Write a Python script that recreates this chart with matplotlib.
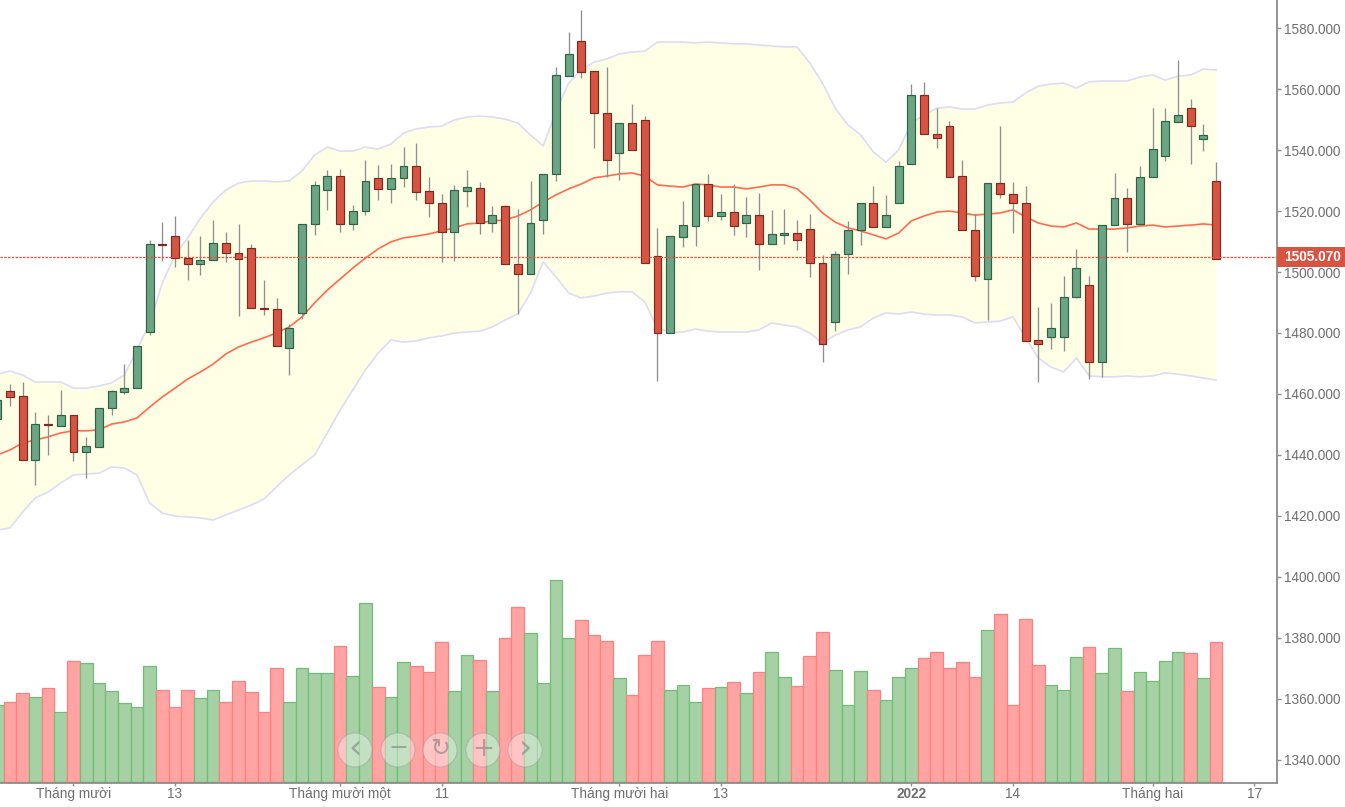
import numpy as np
import matplotlib
matplotlib.use("Agg")
import matplotlib.pyplot as plt
from matplotlib.patches import Circle, Rectangle

plt.rcParams['font.family'] = ['Liberation Sans', 'DejaVu Sans']

# candles, first one is cut off by the left edge
opens = [1451.8, 1461.0, 1459.2, 1438.2, 1450.1, 1449.5, 1453.0, 1440.9, 1442.5, 1455.4,
         1460.6, 1461.9, 1480.3, 1509.2, 1511.7, 1504.6, 1502.5, 1503.8, 1509.6, 1506.2,
         1508.0, 1488.2, 1487.9, 1475.0, 1486.5, 1515.7, 1526.8, 1531.4, 1515.7, 1520.1,
         1531.0, 1527.2, 1530.9, 1534.7, 1526.5, 1522.8, 1513.2, 1526.6, 1527.7, 1516.1,
         1521.6, 1502.6, 1499.2, 1517.0, 1532.1, 1564.5, 1575.7, 1565.9, 1552.3, 1539.1,
         1549.0, 1549.8, 1505.2, 1480.0, 1511.5, 1515.2, 1528.9, 1518.5, 1519.8, 1516.1,
         1518.6, 1509.1, 1512.3, 1512.8, 1514.1, 1503.1, 1483.7, 1505.8, 1513.7, 1522.8,
         1514.8, 1522.7, 1535.4, 1558.1, 1545.3, 1547.8, 1531.4, 1513.7, 1497.6, 1529.3,
         1525.6, 1522.8, 1477.6, 1478.8, 1478.8, 1491.8, 1495.6, 1470.5, 1515.3, 1524.4,
         1515.7, 1531.3, 1538.2, 1549.4, 1554.0, 1543.6, 1529.8]
highs = [1462.0, 1463.3, 1463.8, 1454.0, 1453.2, 1461.4, 1453.0, 1446.0, 1455.5, 1461.4,
         1469.9, 1475.6, 1510.6, 1516.3, 1518.4, 1510.6, 1511.7, 1517.2, 1513.0, 1515.9,
         1509.3, 1497.5, 1491.6, 1483.0, 1515.9, 1529.9, 1533.6, 1533.9, 1522.1, 1536.9,
         1535.2, 1535.6, 1540.9, 1542.2, 1531.1, 1525.7, 1528.7, 1533.6, 1529.4, 1521.7,
         1522.1, 1520.8, 1529.8, 1532.2, 1567.2, 1578.7, 1586.1, 1565.9, 1567.2, 1549.0,
         1555.0, 1551.1, 1514.6, 1511.7, 1523.3, 1528.9, 1532.3, 1525.7, 1529.0, 1524.5,
         1526.0, 1520.5, 1520.8, 1517.2, 1519.1, 1505.7, 1506.9, 1516.8, 1522.8, 1528.2,
         1525.4, 1536.4, 1561.8, 1562.3, 1554.0, 1549.6, 1536.9, 1519.2, 1529.3, 1547.8,
         1529.4, 1528.1, 1488.4, 1490.0, 1498.6, 1507.7, 1498.6, 1515.3, 1532.6, 1527.7,
         1534.7, 1554.0, 1554.0, 1569.7, 1556.9, 1548.7, 1536.0]
lows = [1449.0, 1456.0, 1438.2, 1430.2, 1440.0, 1449.5, 1438.0, 1432.3, 1442.5, 1453.2,
        1460.0, 1461.9, 1479.4, 1503.6, 1501.6, 1497.5, 1499.1, 1503.8, 1503.2, 1485.7,
        1488.2, 1486.0, 1475.8, 1466.3, 1484.6, 1512.3, 1520.5, 1513.1, 1513.9, 1518.8,
        1523.8, 1522.7, 1527.9, 1523.8, 1518.1, 1503.3, 1503.6, 1521.4, 1512.6, 1513.0,
        1502.5, 1486.1, 1499.2, 1512.6, 1529.9, 1564.5, 1563.6, 1540.6, 1531.2, 1530.3,
        1539.9, 1503.0, 1464.2, 1480.0, 1508.2, 1508.5, 1516.8, 1517.2, 1512.2, 1511.5,
        1500.8, 1509.1, 1509.1, 1507.3, 1498.4, 1470.5, 1480.6, 1499.4, 1509.0, 1514.8,
        1514.8, 1522.7, 1535.4, 1545.2, 1540.6, 1531.3, 1513.7, 1497.0, 1484.4, 1524.2,
        1512.7, 1477.5, 1463.9, 1474.6, 1474.2, 1491.6, 1465.0, 1465.5, 1515.3, 1506.6,
        1515.3, 1531.3, 1536.6, 1549.4, 1535.3, 1539.8, 1504.3]
closes = [1457.9, 1459.0, 1438.2, 1450.2, 1449.7, 1453.0, 1440.9, 1442.8, 1455.5, 1460.8,
          1462.0, 1475.6, 1509.3, 1508.8, 1504.6, 1502.5, 1503.8, 1509.6, 1506.2, 1504.2,
          1488.2, 1487.8, 1475.8, 1481.7, 1515.9, 1528.5, 1531.4, 1515.7, 1520.2, 1529.8,
          1527.2, 1531.0, 1534.7, 1526.4, 1522.7, 1513.2, 1526.8, 1527.8, 1516.1, 1518.6,
          1502.5, 1499.2, 1516.2, 1532.2, 1564.6, 1571.6, 1565.8, 1552.2, 1536.7, 1549.0,
          1539.9, 1503.0, 1480.0, 1511.7, 1515.3, 1528.9, 1518.5, 1519.8, 1515.2, 1518.6,
          1509.1, 1512.5, 1512.9, 1510.4, 1503.0, 1476.4, 1505.9, 1513.8, 1522.8, 1514.8,
          1518.6, 1534.7, 1558.1, 1545.2, 1543.9, 1531.3, 1513.7, 1498.8, 1529.3, 1525.5,
          1522.7, 1477.5, 1476.3, 1481.7, 1491.9, 1501.4, 1470.5, 1515.3, 1524.4, 1515.7,
          1531.3, 1540.4, 1549.5, 1551.5, 1548.0, 1544.9, 1504.3]

bb_upper = [1466.5, 1467.5, 1466.2, 1463.9, 1463.9, 1463.9, 1461.9, 1461.9, 1462.6, 1463.6,
            1466.2, 1474.4, 1483.3, 1496.4, 1505.6, 1511.2, 1517.7, 1523.0, 1526.9, 1529.2,
            1529.9, 1529.9, 1529.6, 1529.9, 1533.2, 1538.4, 1541.0, 1539.7, 1539.7, 1541.0,
            1540.4, 1542.0, 1545.6, 1547.0, 1547.6, 1547.9, 1549.9, 1550.9, 1551.2, 1550.9,
            1550.2, 1548.9, 1545.0, 1541.4, 1552.5, 1562.0, 1566.3, 1568.9, 1569.9, 1571.6,
            1572.2, 1572.5, 1575.5, 1575.5, 1575.5, 1575.2, 1575.5, 1575.2, 1574.9, 1574.9,
            1574.5, 1574.2, 1573.9, 1573.9, 1568.6, 1562.0, 1553.8, 1548.3, 1545.0, 1539.4,
            1536.1, 1540.1, 1548.9, 1551.5, 1553.8, 1554.2, 1553.5, 1553.5, 1554.8, 1555.5,
            1555.8, 1558.8, 1561.0, 1561.7, 1562.0, 1560.4, 1562.4, 1562.7, 1562.7, 1562.7,
            1564.0, 1564.7, 1563.0, 1564.3, 1564.7, 1566.6, 1566.3]
bb_lower = [1415.3, 1416.0, 1421.3, 1425.9, 1427.8, 1430.8, 1433.4, 1433.7, 1434.0, 1436.0,
            1435.7, 1433.4, 1424.2, 1420.9, 1419.9, 1419.6, 1419.3, 1418.6, 1420.3, 1421.9,
            1423.5, 1425.5, 1429.5, 1433.4, 1436.7, 1440.0, 1447.2, 1454.7, 1461.3, 1467.9,
            1473.4, 1477.7, 1477.0, 1477.4, 1478.4, 1479.0, 1480.0, 1480.3, 1480.6, 1482.0,
            1484.3, 1486.2, 1493.1, 1503.3, 1498.4, 1493.1, 1491.5, 1492.1, 1493.1, 1493.5,
            1493.5, 1490.2, 1481.6, 1480.3, 1480.3, 1481.3, 1480.6, 1480.3, 1480.3, 1480.3,
            1481.0, 1483.3, 1482.6, 1482.0, 1480.0, 1476.7, 1479.3, 1481.0, 1482.0, 1484.9,
            1486.6, 1486.2, 1486.9, 1486.2, 1485.9, 1485.9, 1485.3, 1483.3, 1483.6, 1483.9,
            1485.3, 1478.4, 1471.8, 1468.8, 1467.2, 1471.8, 1465.9, 1465.6, 1465.6, 1465.9,
            1465.6, 1465.9, 1466.9, 1466.5, 1465.9, 1465.2, 1464.6]
ma20 = [1440.0, 1441.6, 1443.9, 1444.9, 1445.9, 1447.2, 1447.9, 1447.9, 1448.2, 1450.1,
        1450.8, 1452.1, 1455.7, 1459.0, 1461.9, 1464.9, 1467.2, 1469.8, 1473.1, 1475.4,
        1477.0, 1478.4, 1480.0, 1482.0, 1485.3, 1489.9, 1494.1, 1497.7, 1501.3, 1504.6,
        1507.6, 1509.9, 1511.2, 1511.8, 1512.5, 1513.5, 1514.5, 1515.8, 1516.1, 1516.8,
        1517.1, 1518.4, 1520.4, 1523.0, 1525.3, 1527.3, 1528.9, 1530.9, 1531.5, 1532.2,
        1532.5, 1531.5, 1528.6, 1528.2, 1527.9, 1528.9, 1528.6, 1527.9, 1527.9, 1527.3,
        1527.9, 1528.6, 1528.6, 1527.3, 1523.7, 1519.4, 1516.4, 1514.5, 1513.5, 1512.2,
        1510.9, 1512.8, 1516.8, 1518.4, 1519.7, 1520.0, 1519.4, 1518.7, 1519.0, 1519.4,
        1520.4, 1518.1, 1516.1, 1515.1, 1514.8, 1516.1, 1514.1, 1514.1, 1514.1, 1514.5,
        1515.1, 1515.4, 1514.8, 1515.1, 1515.4, 1515.8, 1515.4]

# volume in arbitrary units, the chart shows no scale for it
volumes = [76.7, 79.3, 88.3, 84.3, 93.3, 69.3, 121.0, 118.3, 98.3, 90.7,
           78.3, 74.3, 115.7, 92.0, 74.3, 92.0, 83.3, 92.0, 79.3, 100.7,
           89.3, 69.3, 113.3, 79.3, 113.3, 108.3, 108.3, 135.7, 105.7, 178.3,
           94.3, 84.3, 119.3, 115.7, 109.3, 139.3, 90.7, 127.0, 122.0, 90.7,
           143.3, 174.3, 148.3, 98.3, 201.7, 143.3, 162.0, 147.0, 140.7, 103.3,
           87.0, 127.0, 140.7, 92.0, 97.0, 79.3, 93.3, 94.3, 99.3, 88.3,
           109.3, 129.3, 104.3, 95.7, 125.7, 149.3, 112.0, 77.0, 110.7, 92.0,
           82.0, 104.3, 113.3, 123.3, 129.3, 113.3, 119.3, 104.3, 152.0, 168.0,
           77.0, 163.0, 117.0, 97.0, 92.0, 124.3, 134.3, 108.3, 133.3, 90.7,
           109.3, 100.7, 120.7, 129.3, 128.3, 103.3, 139.3]

last_price = 1505.07
price_ticks = list(range(1340, 1600, 20))
date_ticks = [6, 14, 27, 35, 49, 57, 72, 80, 91, 99]
date_labels = ["Tháng mười", "13", "Tháng mười một", "11", "Tháng mười hai",
               "13", "2022", "14", "Tháng hai", "17"]

GREEN_BODY, GREEN_EDGE = '#6ba583', '#2d6246'
RED_BODY, RED_EDGE = '#d75442', '#7a2a1f'
TEXT_COLOR = '#6e6e6e'

x = np.arange(len(closes))
o, h, l, c = map(np.array, (opens, highs, lows, closes))
up = c >= o

fig = plt.figure(figsize=(13.45, 8.07), dpi=100)
ax = fig.add_axes([0, (807 - 783.3) / 807, 1276.5 / 1345, 783.3 / 807])
ax.set_zorder(2)
ax.patch.set_visible(False)

# volume goes underneath, same x positions
vol_ax = ax.twinx()
vol_ax.set_zorder(1)
vol_ax.bar(x, volumes, width=1.0,
           color=np.where(up, '#a5d1a4', '#ffa3a3'),
           edgecolor=np.where(up, '#74bb78', '#ff8080'), linewidth=0.9)
vol_ax.set_ylim(-1.6, 781.7)
vol_ax.axis('off')

# bollinger band and the moving average
ax.fill_between(x, bb_lower, bb_upper, color='#ffffe5', linewidth=0, zorder=1)
ax.plot(x, bb_upper, color='#dcdcf5', lw=1.2, zorder=2)
ax.plot(x, bb_lower, color='#dcdcf5', lw=1.2, zorder=2)
ax.plot(x, ma20, color='#ff6a50', lw=1.2, zorder=2.5)

# candles
ax.vlines(x, l, h, color='#8f8f8f', lw=0.95, zorder=3)
ax.bar(x, np.abs(c - o), bottom=np.minimum(o, c), width=0.62,
       color=np.where(up, GREEN_BODY, RED_BODY),
       edgecolor=np.where(up, GREEN_EDGE, RED_EDGE), linewidth=0.85, zorder=4)

# last price line and its tag on the scale
ax.axhline(last_price, color='#e0533f', lw=0.9, ls=(0, (2, 1)), zorder=5)
ax.add_patch(Rectangle((1.0, last_price - 3.4), 0.0545, 6.5, transform=ax.get_yaxis_transform(),
                       fc='#d75442', ec='none', clip_on=False, zorder=9))
ax.text(1.0058, last_price - 0.2, f"{last_price:.3f}", transform=ax.get_yaxis_transform(),
        color='white', fontsize=9.8, fontweight='bold', va='center', ha='left', zorder=10,
        clip_on=False)

ax.set_xlim(-0.788 + 1, 99.76 + 1)
ax.set_ylim(1332.2, 1589.29)
vol_ax.set_xlim(ax.get_xlim())

ax.yaxis.tick_right()
ax.set_yticks(price_ticks)
ax.set_yticklabels([f"{p:.3f}" for p in price_ticks])
ax.set_xticks(date_ticks)
ax.set_xticklabels(date_labels)
ax.get_xticklabels()[6].set_fontweight('bold')
ax.tick_params(axis='both', colors='#8c8c8c', labelcolor=TEXT_COLOR, labelsize=9.8, width=1.0)
ax.tick_params(axis='x', length=2.5, pad=0.5)
ax.tick_params(axis='y', length=3, pad=2.5)
for label in ax.get_yticklabels():
    label.set_verticalalignment('center_baseline')
for side in ('top', 'left'):
    ax.spines[side].set_visible(False)
for side in ('right', 'bottom'):
    ax.spines[side].set_color('#8c8c8c')
    ax.spines[side].set_linewidth(1.3)

# zoom/scroll buttons floating over the volume bars, placed in pixels
ui = fig.add_axes([0, 0, 1, 1])
ui.set_xlim(0, 1345)
ui.set_ylim(807, 0)
ui.axis('off')
ui.set_zorder(3)
buttons = [(355, "‹", 24), (398, "−", 17), (440, "↻", 17), (483, "+", 19), (525, "›", 24)]
for bx, glyph, size in buttons:
    ui.add_patch(Circle((bx, 750), 17, fc=(1, 1, 1, 0.36), ec=(0.6, 0.6, 0.6, 0.4), lw=0.9))
    ui.text(bx, 748.5, glyph, ha='center', va='center', fontsize=size, color=(0.5, 0.5, 0.5, 0.6),
            family=['DejaVu Sans'])

fig.savefig("out.png", dpi=100)
